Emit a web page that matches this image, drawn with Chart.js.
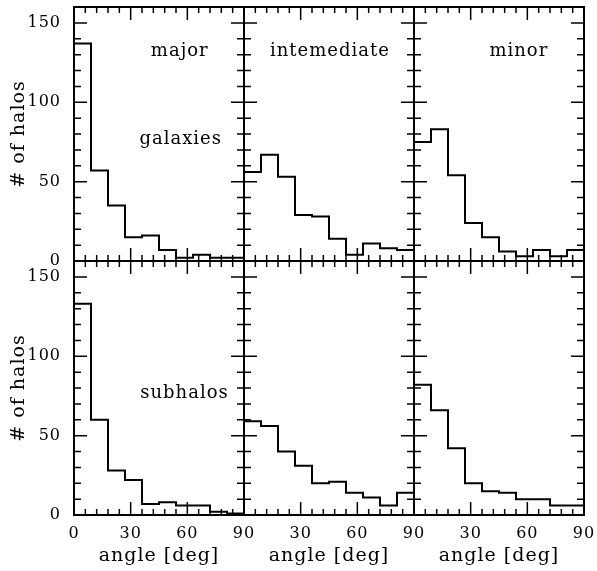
<!DOCTYPE html>
<html>
<head>
<meta charset="utf-8">
<script src="https://cdn.jsdelivr.net/npm/chart.js@4.4.1/dist/chart.umd.min.js"></script>
<style>
  html, body { margin: 0; padding: 0; background: #fff; }
  #wrap { position: relative; width: 597px; height: 571px; }
  #wrap canvas { position: absolute; left: 0; top: 0; }
</style>
</head>
<body>
<div id="wrap"></div>
<script>
// bin edges of the angle histograms (deg)
const binEdges = [0, 9, 18, 27, 36, 45, 54, 63, 72, 81, 90]

// counts per bin, galaxies (top row)
const galaxiesMajor = [137, 57, 35, 15, 16, 7, 2, 4, 2, 2]
const galaxiesInter = [56, 67, 53, 29, 28, 14, 4, 11, 8, 7]
const galaxiesMinor = [75, 83, 54, 24, 15, 6, 3, 7, 3, 7]

// counts per bin, subhalos (bottom row)
const subhalosMajor = [133, 60, 28, 22, 7, 8, 6, 6, 2, 1]
const subhalosInter = [59, 56, 40, 31, 20, 21, 14, 11, 6, 14]
const subhalosMinor = [82, 66, 42, 20, 15, 14, 10, 10, 6, 6]

const axisNames = ['major', 'intemediate', 'minor']
const sampleNames = ['galaxies', 'subhalos']

// tick positions
const xMajorTicks = [0, 30, 60, 90]
const xMinorTicks = [6, 12, 18, 24, 36, 42, 48, 54, 66, 72, 78, 84]
const yMajorTicks = [0, 50, 100, 150]
const yMinorTicks = [10, 20, 30, 40, 60, 70, 80, 90, 110, 120, 130, 140]

const rows = [
  [galaxiesMajor, galaxiesInter, galaxiesMinor],
  [subhalosMajor, subhalosInter, subhalosMinor]
]

// page layout
const W = 597
const H = 571
const colLeft = [74, 244, 414]
const rowTop = [7, 261]
const panelW = 170
const panelH = 254

Chart.defaults.font.family = "'DejaVu Serif', serif"
Chart.defaults.color = '#000'

// ticks on all four sides pointing inwards, the frame and the panel labels
const frameTicks = {
  id: 'frameTicks',
  beforeLayout (chart) {
    chart.ctx.letterSpacing = '1px'
  },
  beforeDraw (chart) {
    chart.ctx.letterSpacing = '1px'
  },
  afterDatasetsDraw (chart, args, opts) {
    const { ctx, chartArea: a } = chart
    const x = chart.scales.x
    const y = chart.scales.y
    ctx.save()
    ctx.strokeStyle = '#000'
    ctx.lineWidth = 1.5
    ctx.beginPath()
    const xTick = (v, len) => {
      const px = x.getPixelForValue(v)
      ctx.moveTo(px, a.bottom)
      ctx.lineTo(px, a.bottom - len)
      ctx.moveTo(px, a.top)
      ctx.lineTo(px, a.top + len)
    }
    const yTick = (v, len) => {
      const py = y.getPixelForValue(v)
      ctx.moveTo(a.left, py)
      ctx.lineTo(a.left + len, py)
      ctx.moveTo(a.right, py)
      ctx.lineTo(a.right - len, py)
    }
    xMajorTicks.forEach(v => xTick(v, 13))
    xMinorTicks.forEach(v => xTick(v, 6))
    yMajorTicks.forEach(v => yTick(v, 13))
    yMinorTicks.forEach(v => yTick(v, 7))
    ctx.stroke()
    ctx.lineWidth = 2
    ctx.strokeRect(a.left, a.top, a.width, a.height)

    ctx.fillStyle = '#000'
    ctx.font = "18px 'DejaVu Serif', serif"
    ctx.letterSpacing = '1px'
    ctx.textAlign = 'center'
    ctx.textBaseline = 'alphabetic'
    ;(opts.labels || []).forEach(l => {
      ctx.fillText(l.text, x.getPixelForValue(l.x), y.getPixelForValue(l.y))
    })
    ctx.restore()
  }
}

// fixed axis box, no extra room asked for the end labels
const fixScale = (s, size) => {
  if (s.isHorizontal()) s.height = size
  else s.width = size
  s.paddingLeft = 0
  s.paddingRight = 0
  s.paddingTop = 0
  s.paddingBottom = 0
}

const wrap = document.getElementById('wrap')

rows.forEach((row, r) => {
  row.forEach((counts, c) => {
    const canvas = document.createElement('canvas')
    canvas.width = W
    canvas.height = H
    wrap.appendChild(canvas)

    const points = binEdges.map((edge, i) => ({ x: edge, y: counts[Math.min(i, counts.length - 1)] }))

    const labels = []
    if (r === 0) {
      labels.push({ text: axisNames[c], x: [56, 45.5, 55.5][c], y: 129 })
    }
    if (c === 0) {
      labels.push({ text: sampleNames[r], x: [56.5, 58.5][r], y: [74, 74][r] })
    }

    new Chart(canvas, {
      type: 'line',
      data: {
        datasets: [{
          data: points,
          stepped: true,
          borderColor: '#000',
          borderWidth: 2,
          pointRadius: 0,
          fill: false
        }]
      },
      options: {
        responsive: false,
        animation: false,
        events: [],
        layout: {
          padding: {
            left: c === 0 ? 0 : colLeft[c],
            right: W - colLeft[c] - panelW,
            top: rowTop[r],
            bottom: r === 1 ? 0 : H - rowTop[r] - panelH
          }
        },
        plugins: {
          legend: { display: false },
          tooltip: { enabled: false },
          frameTicks: { labels }
        },
        scales: {
          x: {
            type: 'linear',
            min: 0,
            max: 90,
            grid: { display: false, drawTicks: false },
            border: { display: false },
            ticks: {
              display: r === 1,
              stepSize: 30,
              padding: 9,
              maxRotation: 0,
              autoSkip: false,
              font: { size: 16 },
              callback: v => (c > 0 && v === 0) ? '' : v
            },
            title: {
              display: r === 1,
              text: 'angle [deg]',
              font: { size: 19 },
              padding: { top: 0, bottom: 4 }
            },
            afterFit: s => fixScale(s, r === 1 ? H - rowTop[1] - panelH : 0)
          },
          y: {
            min: 0,
            max: 160,
            grid: { display: false, drawTicks: false },
            border: { display: false },
            ticks: {
              display: c === 0,
              stepSize: 50,
              includeBounds: false,
              padding: 13,
              font: { size: 16 }
            },
            title: {
              display: c === 0,
              text: '# of halos',
              font: { size: 19 },
              padding: { top: 8, bottom: 0 }
            },
            afterFit: s => fixScale(s, c === 0 ? colLeft[0] : 0)
          }
        }
      },
      plugins: [frameTicks]
    })
  })
})
</script>
</body>
</html>
